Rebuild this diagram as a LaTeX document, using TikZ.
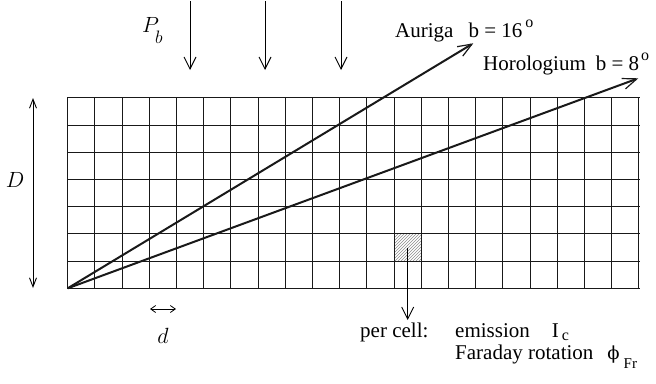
\RequirePackage{fix-cm}
\documentclass[tikz,border=0pt]{standalone}
\usepackage{fontspec}
\setmainfont{Liberation Serif}
\newfontfamily\phifont{DejaVu Serif}
\usetikzlibrary{arrows.meta,patterns}
\begin{document}
\begin{tikzpicture}[x=1pt,y=-1pt,
  gridline/.style={line width=1.2pt, black!90, line cap=rect},
  ray/.style={line width=2pt, black!90, -{Straight Barb[length=14pt,width=11pt,line width=1.2pt]}},
  flux/.style={line width=0.9pt, -{Straight Barb[length=12pt,width=12pt,line width=0.9pt]}},
  dimarrow/.style={line width=0.9pt, {Straight Barb[length=9pt,width=7pt,line width=0.9pt]}-{Straight Barb[length=9pt,width=7pt,line width=0.9pt]}},
  smalldim/.style={line width=0.8pt, {Straight Barb[length=5pt,width=7pt,line width=0.8pt]}-{Straight Barb[length=5pt,width=7pt,line width=0.8pt]}},
  lbl/.style={font=\fontsize{21}{25}\selectfont, inner sep=0pt},
  mlbl/.style={font=\fontsize{22}{26}\selectfont, inner sep=0pt},
  hatchcell/.style={minimum size=27.2pt, inner sep=0pt, pattern=north east lines, pattern color=black!45}]
\useasboundingbox (0,0) rectangle (656,383);

% hatched cell
\node[hatchcell] (cell) at (407.7,247.5) {};

% grid 21 x 7, lines snapped to pixel centres
\foreach \i in {0,...,21} {
  \pgfmathsetmacro\xx{floor(67.7+27.2*\i)+0.5}
  \draw[gridline] (\xx,97.5) -- (\xx,288.5);
}
\foreach \j in {0,...,7} {
  \pgfmathsetmacro\yy{floor(97.9+27.2*\j)+0.5}
  \draw[gridline] (67.5,\yy) -- (639.5,\yy);
}

% rays
\coordinate (O) at (67.7,288.3);
\coordinate (aur) at (473.3,43.3);
\coordinate (hor) at (638.3,78.3);
\draw[ray] (O) -- (aur);
\draw[ray] (O) -- (hor);

% incoming flux arrows
\coordinate (f1a) at (190,1); \coordinate (f1b) at (190,70);
\coordinate (f2a) at (265,1); \coordinate (f2b) at (265,70);
\coordinate (f3a) at (341,1); \coordinate (f3b) at (341,70);
\draw[flux] (f1a) -- (f1b);
\draw[flux] (f2a) -- (f2b);
\draw[flux] (f3a) -- (f3b);

% cell arrow
\coordinate (celltip) at (407.7,320);
\draw[flux] (cell.center) -- (celltip);

% D arrow
\coordinate (Dt) at (33,98);
\coordinate (Db) at (33,288);
\draw[dimarrow] (Dt) -- (Db);
\node[mlbl] (Dl) at (15,180) {$D$};

% d arrow
\coordinate (dl) at (150,309);
\coordinate (dr) at (176,309);
\draw[smalldim] (dl) -- (dr);
\node[mlbl, anchor=base] (dlab) at (163,343) {$d$};

% P_b
\node[mlbl, anchor=base west] (pb) at (142,32) {$P$\hspace{-4pt}\raisebox{-11pt}{\fontsize{18}{18}\selectfont$b$}};

% ray labels
\node[lbl, anchor=base west] (aurl) at (395,37) {Auriga\hspace{15pt}b = 16\hspace{3pt}\raisebox{10pt}{\fontsize{16}{16}\selectfont o}};
\node[lbl, anchor=base west] (horl) at (483,70.7) {Horologium\hspace{10pt}b = 8\hspace{2pt}\raisebox{10pt}{\fontsize{16}{16}\selectfont o}};

% per cell text
\node[lbl, anchor=base west] (percell) at (360,337) {per cell:};
\node[lbl, anchor=base west] (emis) at (455,337) {emission\hspace{22pt}I\hspace{3pt}\raisebox{-3pt}{\fontsize{16}{16}\selectfont c}};
\node[lbl, anchor=base west] (fara) at (455,359) {Faraday rotation\hspace{14pt}{\phifont\fontsize{18}{20}\selectfont ϕ}\hspace{4pt}\raisebox{-9pt}{\fontsize{15}{15}\selectfont Fr}};
\end{tikzpicture}
\end{document}
